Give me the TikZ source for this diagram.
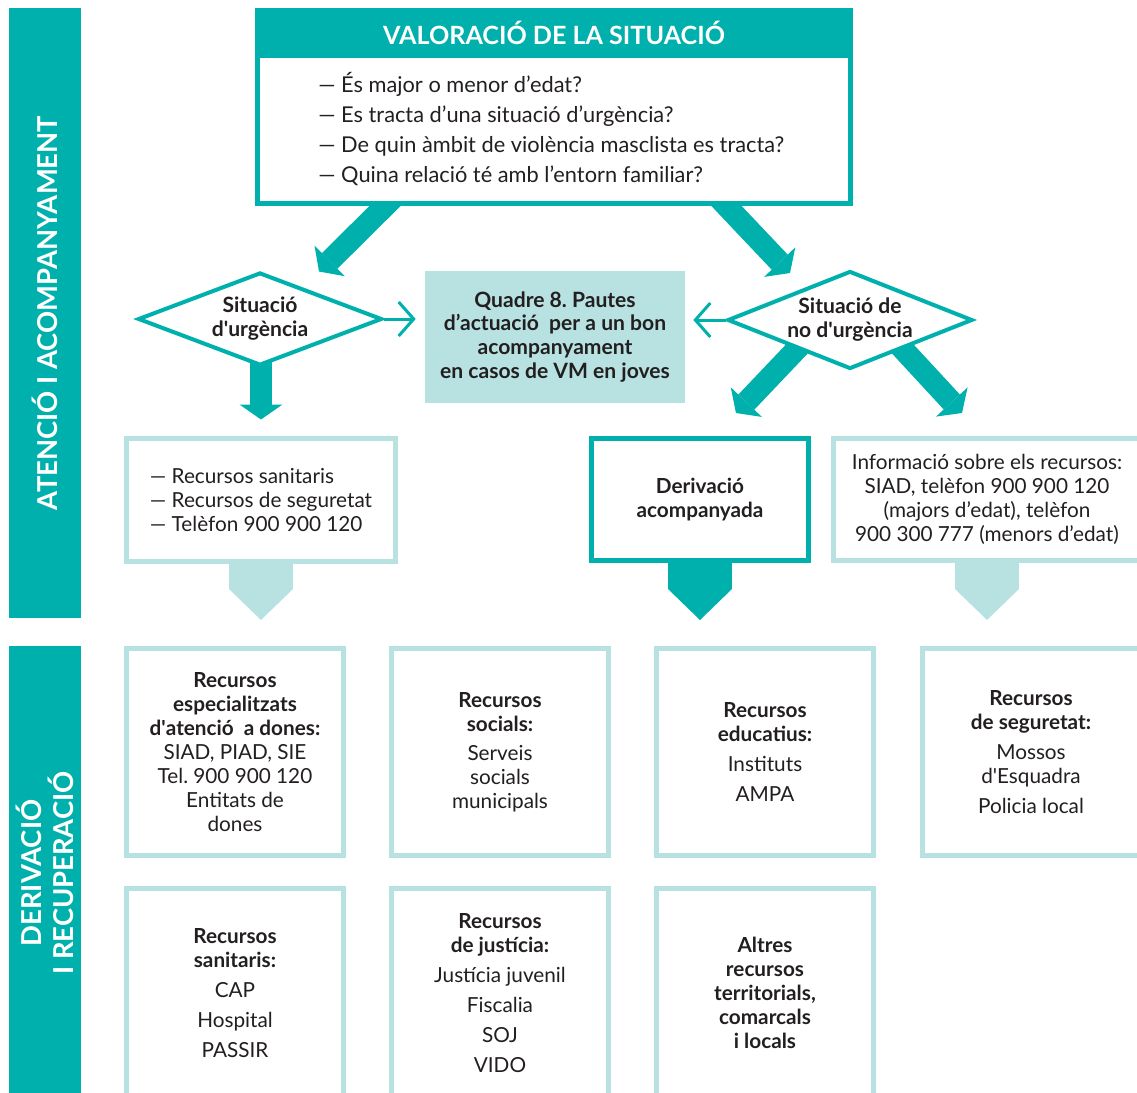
\documentclass[tikz,border=0pt]{standalone}
\usepackage{fontspec}
\setmainfont{Lato}
\usepackage{tikz}
\usetikzlibrary{shapes,arrows.meta,positioning,calc,backgrounds}
\definecolor{vmteal}{RGB}{0,176,173}
\definecolor{vmlight}{RGB}{184,226,226}
\definecolor{vmtext}{RGB}{35,31,32}

\begin{document}
\begin{tikzpicture}[x=0.02cm, y=-0.02cm,
    every node/.style={text=vmtext, font=\fontsize{11.8}{13.6}\selectfont},
    sidebar/.style={fill=vmteal, text=white, rotate=90, minimum height=1.44cm, align=center, inner sep=0pt, font=\bfseries\fontsize{15.6}{18}\selectfont},
    valhead/.style={fill=vmteal, text=white, minimum width=11.96cm, minimum height=1cm, inner sep=0pt, font=\bfseries\fontsize{14.3}{16}\selectfont},
    valframe/.style={draw=vmteal, line width=0.1cm, fill=white, inner sep=0pt},
    decision/.style={diamond, aspect=2.6, draw=vmteal, line width=0.08cm, fill=white, inner sep=0pt, align=center, font=\bfseries\fontsize{12}{13.6}\selectfont},
    quadrebox/.style={fill=vmlight, align=center, inner sep=0pt, font=\bfseries\fontsize{12}{13.6}\selectfont},
    lightbox/.style={draw=vmlight, line width=0.1cm, fill=white, align=center, inner sep=0pt},
    darkbox/.style={lightbox, draw=vmteal},
    gridbox/.style={lightbox, minimum width=4.34cm},
    fatarrow/.style={draw=vmteal, line width=0.44cm, -{Triangle[length=0.3cm, width=0.86cm, line width=0pt]}},
    thinarrow/.style={draw=vmteal, line width=0.06cm, -{Straight Barb[length=0.3cm, width=0.68cm]}},
    lightpent/.style={draw=vmlight, line width=1.28cm, -{Triangle[length=0.62cm, width=1.28cm, line width=0pt]}},
    darkpent/.style={lightpent, draw=vmteal}]
    \useasboundingbox (0,0) rectangle (1137,1093);

    % Side bars
    \node[sidebar, minimum width=12.2cm] (atbar) at (45,313) {ATENCIÓ I ACOMPANYAMENT};
    \node[sidebar, minimum width=9.08cm] (drbar) at (45,873) {DERIVACIÓ\\I RECUPERACIÓ};

    % Valoracio box
    \node[valframe, minimum width=11.86cm, minimum height=3.86cm] (val) at (554,107) {};
    \node[valhead] (valtitle) at (554,33) {VALORACIÓ DE LA SITUACIÓ};
    \node[anchor=west, align=left, inner sep=0pt, font=\fontsize{12.4}{17.2}\selectfont] (qlist) at (318,129)
        {— És major o menor d’edat?\\— Es tracta d’una situació d’urgència?\\— De quin àmbit de violència masclista es tracta?\\— Quina relació té amb l’entorn familiar?};

    % Decisions and Quadre 8
    \node[decision, minimum width=4.88cm, minimum height=1.86cm] (dia1) at (260,319) {Situació\\d\textquotesingle urgència};
    \node[decision, minimum width=4.9cm, minimum height=1.96cm] (dia2) at (850,320) {Situació de\\no d\textquotesingle urgència};
    \node[quadrebox, minimum width=5.2cm, minimum height=2.64cm] (quadre) at (555,337)
        {Quadre 8.\ Pautes\\d’actuació~ per a un bon\\acompanyament\\en casos de VM en joves};

    % Second row
    \node[lightbox, align=left, minimum width=5.38cm, minimum height=2.46cm] (urgbox) at (261,500)
        {— Recursos sanitaris\\— Recursos de seguretat\\— Telèfon 900 900 120};
    \node[darkbox, minimum width=4.34cm, minimum height=2.44cm] (derbox) at (700,499.5)
        {\textbf{Derivació}\\\textbf{acompanyada}};
    \node[lightbox, minimum width=6.14cm, minimum height=2.44cm] (infobox) at (987,499.5)
        {Informació sobre els recursos:\\SIAD, telèfon 900 900 120\\(majors d’edat), telèfon\\900 300 777 (menors d’edat)};

    % Resources grid
    \node[gridbox, minimum height=4.14cm] (espbox) at (235,752)
        {\textbf{Recursos}\\\textbf{especialitzats}\\\textbf{d\textquotesingle atenció~ a dones:}\\SIAD, PIAD, SIE\\Tel.\ 900 900 120\\Entitats de\\dones};
    \node[gridbox, minimum height=4.14cm] (socbox) at (500,752)
        {\textbf{Recursos}\\\textbf{socials:}\\[0.1cm]Serveis\\socials\\municipals};
    \node[gridbox, minimum height=4.14cm] (edubox) at (765,752)
        {\textbf{Recursos}\\\textbf{educatius:}\\[0.12cm]Instituts\\[0.12cm]AMPA};
    \node[gridbox, minimum height=4.14cm] (segbox) at (1031,752)
        {\textbf{Recursos}\\\textbf{de seguretat:}\\[0.12cm]Mossos\\d\textquotesingle Esquadra\\[0.12cm]Policia local};
    \node[gridbox, minimum height=4.18cm] (sanbox) at (235,993)
        {\textbf{Recursos}\\\textbf{sanitaris:}\\[0.12cm]CAP\\[0.12cm]Hospital\\[0.12cm]PASSIR};
    \node[gridbox, minimum height=4.18cm] (jusbox) at (500,993)
        {\textbf{Recursos}\\\textbf{de justícia:}\\[0.12cm]Justícia juvenil\\[0.12cm]Fiscalia\\[0.12cm]SOJ\\[0.12cm]VIDO};
    \node[gridbox, minimum height=4.18cm] (altbox) at (765,993)
        {\textbf{Altres}\\\textbf{recursos}\\\textbf{territorials,}\\\textbf{comarcals}\\\textbf{i locals}};

    % Arrows
    \draw[thinarrow] (dia1.east) -- ([xshift=-0.18cm]dia1.east -| quadre.west);
    \draw[thinarrow] (dia2.west) -- ([xshift=0.16cm]dia2.west -| quadre.east);
    \begin{pgfonlayer}{background}
        \draw[fatarrow] ([shift={(138,-8)}]val.south west) -- ([shift={(59,1)}]dia1.north);
        \draw[fatarrow] ([shift={(-134,-8)}]val.south east) -- ([shift={(-60,4)}]dia2.north);
        \draw[fatarrow] ([shift={(1,-20)}]dia1.south) -- ([shift={(1,52)}]dia1.south);
        \draw[fatarrow] ([shift={(-38,13)}]dia2.center) -- ([shift={(-114,93)}]dia2.center);
        \draw[fatarrow] ([shift={(38,13)}]dia2.center) -- ([shift={(112,93)}]dia2.center);
        \draw[lightpent] (urgbox.south) -- ++(0,56);
        \draw[darkpent] (derbox.south) -- ++(0,57);
        \draw[lightpent] (infobox.south) -- ++(0,57);
    \end{pgfonlayer}
\end{tikzpicture}
\end{document}
